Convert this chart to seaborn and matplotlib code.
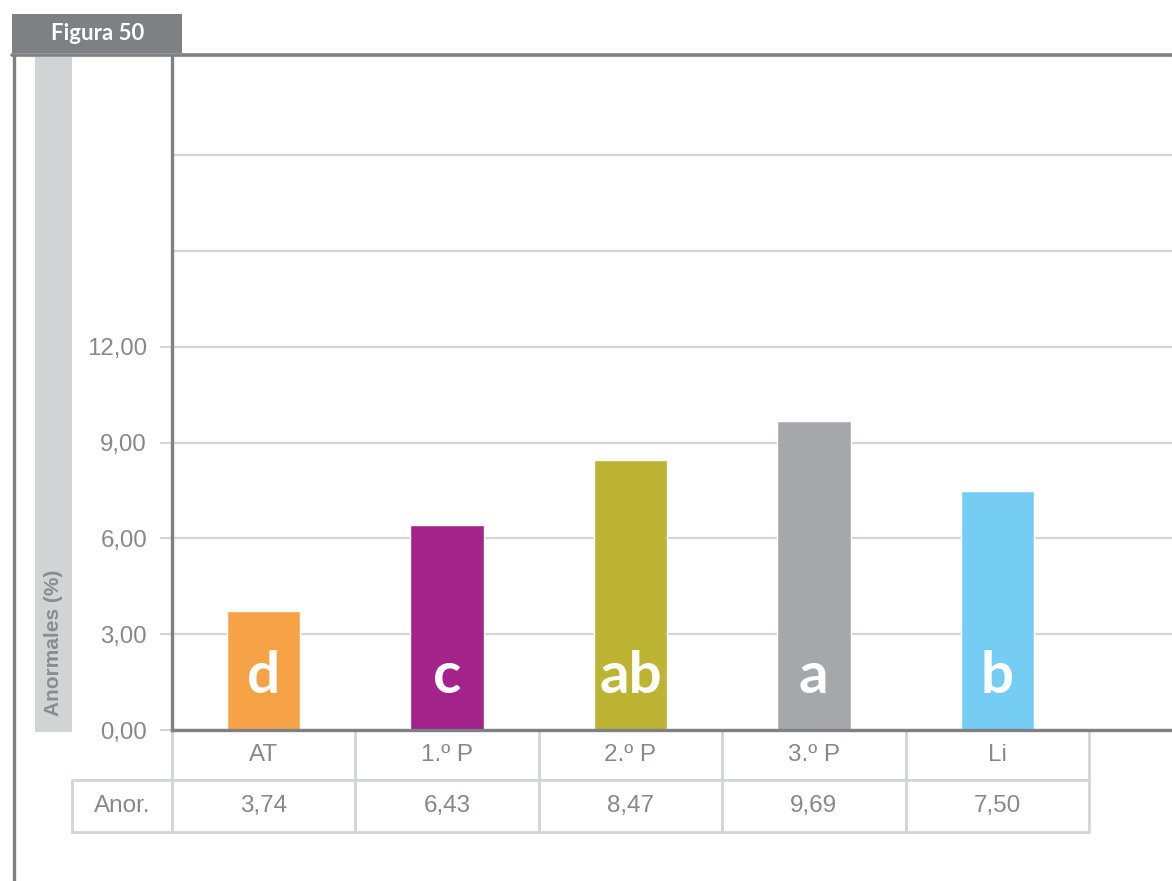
import matplotlib
matplotlib.use("Agg")
import matplotlib.pyplot as plt
import matplotlib.transforms as mtransforms
from matplotlib.patches import Rectangle
from matplotlib.lines import Line2D
import seaborn as sns

# Data
categories = ["AT", "1.º P", "2.º P", "3.º P", "Li"]
values = [3.74, 6.43, 8.47, 9.69, 7.50]
value_labels = ["3,74", "6,43", "8,47", "9,69", "7,50"]
letters = ["d", "c", "ab", "a", "b"]
bar_colors = ["#f6a347", "#a3238b", "#bdb433", "#a6a7aa", "#75cdf3"]
y_ticks = [0, 3, 6, 9, 12, 15, 18]
y_tick_labels = ["0,00", "3,00", "6,00", "9,00", "12,00", "", ""]
row_header = "Anor."
y_title = "Anormales (%)"
figure_tag = "Figura 50"

sns.set_theme(style="white")
plt.rcParams["font.family"] = ["Liberation Sans", "DejaVu Sans"]

W, H = 1172, 881
fig = plt.figure(figsize=(W / 100, H / 100), dpi=100)
fig.patch.set_facecolor("white")


def fx(px):
    return px / W


def fy(py):
    return 1 - py / H


frame_col = "#7f8084"
grid_col = "#d3d4d6"
text_col = "#87888a"

# Axes area: spine at x=172, baseline at y=730, top at y=57
ax = fig.add_axes([fx(172), fy(730), fx(W) - fx(172), fy(57) - fy(730)])
sns.barplot(x=categories, y=values, hue=categories, palette=bar_colors,
            width=0.4, saturation=1, legend=False, ax=ax, zorder=3)

slot = 183.4
ax.set_xlim(-0.5, (W - 172) / slot - 0.5)
ax.set_ylim(0, 673 / 31.92)
ax.set_yticks(y_ticks)
ax.set_yticklabels(y_tick_labels)
ax.set_xticks([])
ax.set_xlabel("")
ax.set_ylabel("")
ax.tick_params(axis="y", length=9, width=1.5, color=grid_col, pad=9,
               labelsize=17.3, labelcolor=text_col, left=True)
for t in ax.yaxis.get_major_ticks()[5:]:
    t.tick1line.set_visible(False)
ax.grid(axis="y", color=grid_col, linewidth=1.6, zorder=0)
ax.set_axisbelow(True)
for side in ["top", "right"]:
    ax.spines[side].set_visible(False)
for side in ["left", "bottom"]:
    ax.spines[side].set_color(frame_col)
    ax.spines[side].set_linewidth(2.4)
    ax.spines[side].set_zorder(5)

# Significance letters inside bars
for i, lt in enumerate(letters):
    ax.text(i, 1.16, lt, ha="center", va="baseline", color="white",
            fontsize=42, fontweight="bold", family=["Lato", "DejaVu Sans"],
            zorder=6)

# Table under the axis
tr = mtransforms.blended_transform_factory(ax.transData, ax.transAxes)
ah = 673.0
y_row1 = -50 / ah
y_row2 = -102 / ah
x_left = -100 / slot - 0.5
x_bounds = [i - 0.5 for i in range(len(categories) + 1)]
lk = dict(color=grid_col, linewidth=2, transform=tr, clip_on=False, zorder=1)
for xb in x_bounds:
    ax.add_line(Line2D([xb, xb], [0, y_row2], **lk))
ax.add_line(Line2D([x_left, x_left], [y_row1, y_row2], **lk))
ax.add_line(Line2D([x_left, x_bounds[-1]], [y_row1, y_row1], **lk))
ax.add_line(Line2D([x_left, x_bounds[-1]], [y_row2, y_row2], **lk))

for i, (cat, vl) in enumerate(zip(categories, value_labels)):
    ax.text(i, -25 / ah, cat, ha="center", va="center", transform=tr,
            fontsize=17.5, color=text_col, clip_on=False)
    ax.text(i, -76 / ah, vl, ha="center", va="center", transform=tr,
            fontsize=17.5, color=text_col, clip_on=False)
ax.text((x_left - 0.5) / 2, -76 / ah, row_header, ha="center", va="center",
        transform=tr, fontsize=17.5, color=text_col, clip_on=False)

# Page decoration: frame, tab and y-title band
fig.add_artist(Rectangle((fx(12), fy(53)), fx(182) - fx(12), fy(14) - fy(53),
                         transform=fig.transFigure, color=frame_col, lw=0))
fig.text(fx(98), fy(34), figure_tag, ha="center", va="center", color="white",
         fontsize=16, fontweight="bold", family=["Lato", "DejaVu Sans"])
fig.add_artist(Line2D([fx(12), fx(W)], [fy(55), fy(55)], color=frame_col,
                      linewidth=2.6, transform=fig.transFigure))
fig.add_artist(Line2D([fx(13.5), fx(13.5)], [fy(55), 0], color=frame_col,
                      linewidth=2.4, transform=fig.transFigure))
fig.add_artist(Rectangle((fx(35), fy(732)), fx(72) - fx(35), fy(57) - fy(732),
                         transform=fig.transFigure, color="#d2d3d5", lw=0))
fig.text(fx(54), fy(716), y_title, rotation=90, ha="center", va="bottom",
         color="#8b8c8e", fontsize=15, fontweight="bold")

fig.savefig("out.png", dpi=100)
